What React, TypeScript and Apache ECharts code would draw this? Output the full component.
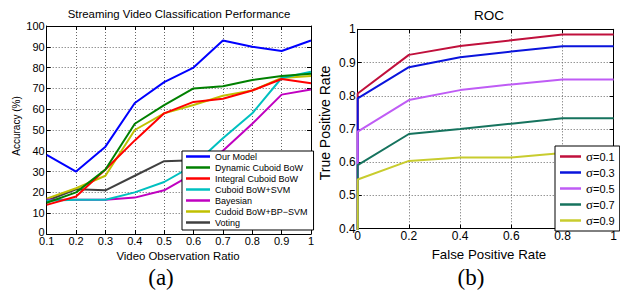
import React, { useEffect, useRef } from "react";
import * as echarts from "echarts";

// ---- Left chart data (Video Observation Ratio vs Accuracy %) ----
const ratios = [0.1, 0.2, 0.3, 0.4, 0.5, 0.6, 0.7, 0.8, 0.9, 1.0];
const leftNames = [
  "Our Model",
  "Dynamic Cuboid BoW",
  "Integral Cuboid BoW",
  "Cuboid BoW+SVM",
  "Bayesian",
  "Cudoid BoW+BP\u2212SVM",
  "Voting",
];
const ourModel = [38, 30, 42, 63, 73, 80, 93, 90, 88, 93];
const dynamicCuboid = [15, 20, 31, 53, 62, 70, 71, 74, 76, 77];
const integralCuboid = [14, 18, 31, 45, 58, 63.5, 65, 69, 74.5, 72.5];
const cuboidSvm = [16, 16.5, 16.5, 20, 25, 33, 46, 58, 75, 78];
const bayesian = [16.5, 16.5, 16.5, 17.5, 21, 29, 40, 53, 67, 69.5];
const cudoidBpSvm = [17, 22, 28, 50, 58, 62, 66.5, 69, 75, 76];
const voting = [16, 21.5, 21, 28, 35, 35.5, 36, 37, 38, 38];
const leftValues = [ourModel, dynamicCuboid, integralCuboid, cuboidSvm, bayesian, cudoidBpSvm, voting];
const leftColors = ["#0000ff", "#008000", "#ff0000", "#00c0c0", "#c000c0", "#c0c000", "#404040"];

// ---- Right chart data (ROC) ----
const fpr = [0, 0, 0.2, 0.4, 0.6, 0.8, 1.0];
const rocNames = ["\u03c3=0.1", "\u03c3=0.3", "\u03c3=0.5", "\u03c3=0.7", "\u03c3=0.9"];
const tpr01 = [0, 0.807, 0.923, 0.95, 0.967, 0.984, 0.984];
const tpr03 = [0, 0.792, 0.886, 0.916, 0.933, 0.949, 0.949];
const tpr05 = [0, 0.692, 0.787, 0.817, 0.834, 0.849, 0.849];
const tpr07 = [0, 0.591, 0.685, 0.7, 0.716, 0.732, 0.732];
const tpr09 = [0, 0.548, 0.604, 0.614, 0.614, 0.628, 0.628];
const rocValues = [tpr01, tpr03, tpr05, tpr07, tpr09];
const rocColors = ["#c0103c", "#0a14dc", "#bf5cf5", "#16735e", "#c8cc2e"];

const leftTicks = { min: 0.1, max: 1.0, interval: 0.1 };
const leftYTicks = { min: 0, max: 100, interval: 10 };
const rightXTicks = { min: 0, max: 1, interval: 0.2 };
const rightYTicks = { min: 0.4, max: 1, interval: 0.1 };

const SANS = "Liberation Sans";

function fmt(v: number) {
  return String(Math.round(v * 100) / 100);
}

export default function App() {
  const ref = useRef<HTMLDivElement>(null);
  useEffect(() => {
    if (!ref.current) return;
    const chart = echarts.init(ref.current, undefined, { renderer: "svg" });

    const split = { show: true, lineStyle: { color: "#666", type: [1, 2] as any, width: 1 } };
    const axisLine = { show: true, onZero: false, lineStyle: { color: "#000", width: 1 } };
    const tick = { show: true, inside: true, length: 4, lineStyle: { color: "#000" } };

    const mainAxis = (extra: any, fontSize: number, margin: number, formatter: any = fmt, rich: any = undefined) => ({
      type: "value",
      axisLine,
      axisTick: tick,
      splitLine: split,
      axisLabel: { color: "#000", fontFamily: SANS, fontSize, margin, formatter, rich },
      ...extra,
    });
    const mirrorAxis = (extra: any) => ({
      type: "value",
      axisLine,
      axisTick: tick,
      splitLine: { show: false },
      axisLabel: { show: false },
      ...extra,
    });

    const leftYFmt = (v: number) => (v === 0 ? "{z|0}" : fmt(v));
    const leftYRich = { z: { fontFamily: SANS, fontSize: 11, color: "#000", padding: [0, 0, 5, 0] } };

    const option: any = {
      animation: false,
      grid: [
        { left: 46.7, top: 26, width: 264.3, height: 208 },
        { left: 357.7, top: 29.3, width: 262.5, height: 199.4 },
      ],
      xAxis: [
        mainAxis({ gridIndex: 0, position: "bottom", ...leftTicks }, 11, 1),
        mirrorAxis({ gridIndex: 0, position: "top", ...leftTicks }),
        mainAxis({ gridIndex: 1, position: "bottom", ...rightXTicks }, 12, 1),
        mirrorAxis({ gridIndex: 1, position: "top", ...rightXTicks }),
      ],
      yAxis: [
        mainAxis({ gridIndex: 0, position: "left", ...leftYTicks }, 11, 2, leftYFmt, leftYRich),
        mirrorAxis({ gridIndex: 0, position: "right", ...leftYTicks }),
        mainAxis({ gridIndex: 1, position: "left", ...rightYTicks }, 12, 2),
        mirrorAxis({ gridIndex: 1, position: "right", ...rightYTicks }),
      ],
      legend: [
        {
          data: leftNames,
          left: 182,
          top: 151,
          orient: "vertical",
          icon: "rect",
          itemWidth: 24,
          itemHeight: 2.5,
          itemGap: 2,
          padding: [1, 6, 3, 4],
          backgroundColor: "#fff",
          borderColor: "#000",
          borderWidth: 1,
          borderRadius: 0,
          textStyle: { fontFamily: SANS, fontSize: 9, lineHeight: 9, color: "#000" },
          selectedMode: false,
        },
        {
          data: rocNames,
          left: 555,
          top: 146,
          orient: "vertical",
          icon: "rect",
          itemWidth: 21,
          itemHeight: 2.5,
          itemGap: 3,
          padding: [4, 5, 4, 5],
          backgroundColor: "#fff",
          borderColor: "#000",
          borderWidth: 1,
          borderRadius: 0,
          formatter: (name: string) => `{s|\u03c3}{n|${name.slice(1)}}`,
          textStyle: {
            color: "#000",
            lineHeight: 12,
            rich: {
              s: { fontFamily: "Liberation Serif", fontSize: 13, lineHeight: 12, color: "#000" },
              n: { fontFamily: SANS, fontSize: 11, lineHeight: 12, color: "#000" },
            },
          },
          selectedMode: false,
        },
      ],
      series: [
        ...leftNames.map((name, i) => ({
          name,
          type: "line",
          xAxisIndex: 0,
          yAxisIndex: 0,
          symbol: "none",
          color: leftColors[i],
          lineStyle: { width: 2, color: leftColors[i] },
          data: ratios.map((x, j) => [x, leftValues[i][j]]),
          z: 2 + (leftNames.length - i) * 0.01,
        })),
        ...rocNames.map((name, i) => ({
          name,
          type: "line",
          xAxisIndex: 2,
          yAxisIndex: 2,
          symbol: "none",
          color: rocColors[i],
          lineStyle: { width: 2, color: rocColors[i] },
          data: fpr.map((x, j) => [x, rocValues[i][j]]),
          clip: true,
        })),
      ],
      graphic: [
        {
          type: "text",
          x: 179,
          y: 13.5,
          style: {
            text: "Streaming Video Classification Performance",
            fontFamily: SANS,
            fontSize: 11.4,
            fill: "#000",
            align: "center",
            verticalAlign: "middle",
          },
        },
        {
          type: "text",
          x: 489,
          y: 15,
          style: { text: "ROC", fontFamily: SANS, fontSize: 13.5, fill: "#000", align: "center", verticalAlign: "middle" },
        },
        {
          type: "text",
          x: 178,
          y: 256,
          style: {
            text: "Video Observation Ratio",
            fontFamily: SANS,
            fontSize: 11.4,
            fill: "#000",
            align: "center",
            verticalAlign: "middle",
          },
        },
        {
          type: "text",
          x: 489,
          y: 254,
          style: {
            text: "False Positive Rate",
            fontFamily: SANS,
            fontSize: 13.3,
            fill: "#000",
            align: "center",
            verticalAlign: "middle",
          },
        },
        {
          type: "text",
          x: 16,
          y: 126,
          rotation: Math.PI / 2,
          style: {
            text: "Accuracy (%)",
            fontFamily: SANS,
            fontSize: 10,
            fill: "#000",
            align: "center",
            verticalAlign: "middle",
          },
        },
        {
          type: "text",
          x: 325,
          y: 123,
          rotation: Math.PI / 2,
          style: {
            text: "True Positive Rate",
            fontFamily: SANS,
            fontSize: 14,
            fill: "#000",
            align: "center",
            verticalAlign: "middle",
          },
        },
        {
          type: "text",
          x: 161,
          y: 277,
          style: { text: "(a)", fontFamily: "Liberation Serif", fontSize: 23, fill: "#000", align: "center", verticalAlign: "middle" },
        },
        {
          type: "text",
          x: 471,
          y: 277,
          style: { text: "(b)", fontFamily: "Liberation Serif", fontSize: 23, fill: "#000", align: "center", verticalAlign: "middle" },
        },
      ],
    };

    chart.setOption(option);
    return () => chart.dispose();
  }, []);

  return (
    <div
      ref={ref}
      style={{ position: "fixed", left: 0, top: 0, width: 620, height: 294, background: "#fff" }}
    />
  );
}
